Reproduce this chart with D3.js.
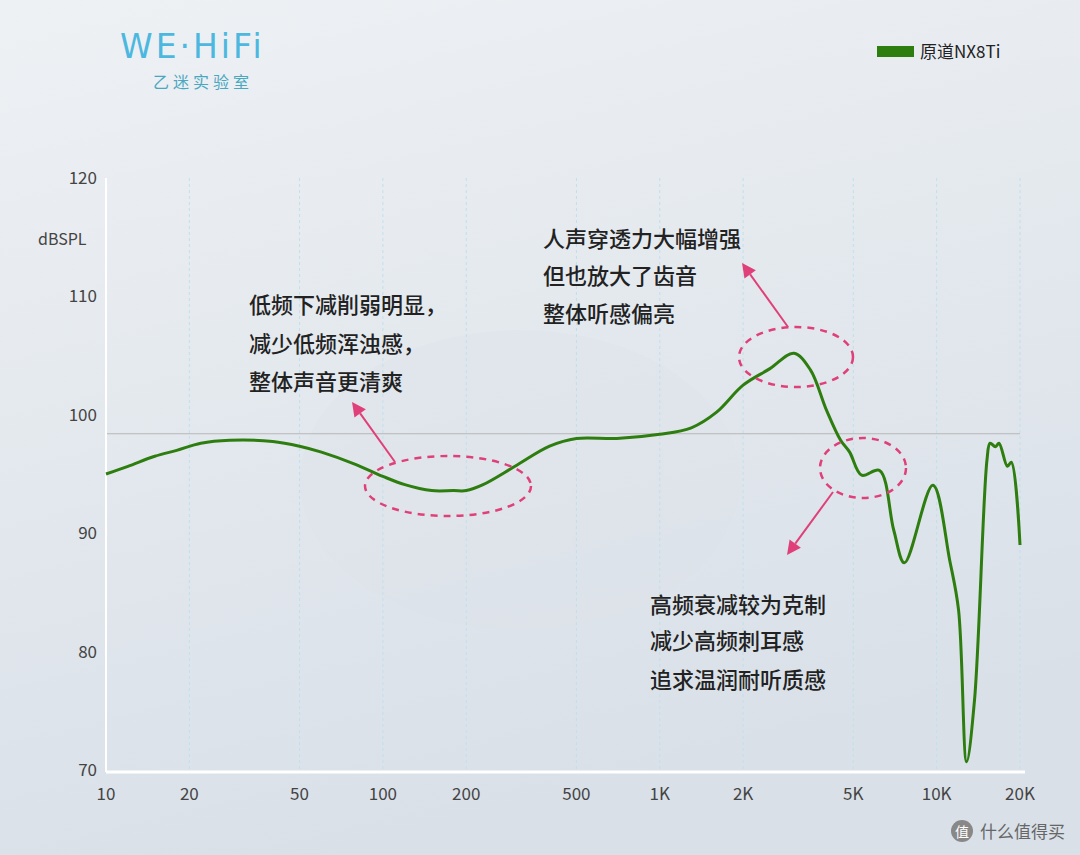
<!DOCTYPE html>
<html><head><meta charset="utf-8">
<script src="https://cdn.jsdelivr.net/npm/d3@7"></script>
<style>body{margin:0}svg{display:block}</style>
</head><body><div id="chart"></div>
<script>
const freqs = [10,12,15,18,22,28,40,50,60,80,100,120,150,180,200,230,300,400,500,700,1000,1300,1600,2000,2500,3050,3500,4000,4500,4850,5360,6220,7000,7650,9690,11150,12000,12830,13700,15200,15600,16300,16800,18000,18600,20000];
const spl = [95.0,95.65,96.5,97.0,97.6,97.85,97.75,97.35,96.85,95.8,94.8,94.1,93.6,93.6,93.6,94.1,95.65,97.35,98.0,98.0,98.35,98.9,100.2,102.5,103.9,105.2,103.8,100.4,97.85,96.85,94.9,95.3,90.25,87.5,94.05,87.7,83.5,70.7,75.9,96.2,97.6,97.3,97.6,95.65,96.0,89.0];
const xTicks = [10,20,50,100,200,500,1000,2000,5000,10000,20000];
const xTickLabels = ["10","20","50","100","200","500","1K","2K","5K","10K","20K"];
const yTicks = [70,80,90,100,110,120];
const refLevel = 98.4;

const W = 1080, H = 855;
const svg = d3.select("#chart").append("svg").attr("width", W).attr("height", H)
  .style("font-family", "'Noto Sans CJK SC','Noto Sans',sans-serif");

const defs = svg.append("defs");
const grad = defs.append("linearGradient").attr("id","bg").attr("x1",0).attr("y1",0).attr("x2",0.3).attr("y2",1);
grad.append("stop").attr("offset","0%").attr("stop-color","#eef1f4");
grad.append("stop").attr("offset","100%").attr("stop-color","#d9e0e8");
svg.append("rect").attr("width",W).attr("height",H).attr("fill","url(#bg)");

svg.append("ellipse").attr("cx",520).attr("cy",480).attr("rx",220).attr("ry",150).attr("fill","#dde2e8").attr("opacity",0.35);

const x = d3.scaleLog().domain([10,20000]).range([106,1020]);
const y = d3.scaleLinear().domain([70,120]).range([770,178]);

// grid
svg.append("g").selectAll("line").data(xTicks).join("line")
  .attr("x1",d=>x(d)).attr("x2",d=>x(d)).attr("y1",y(120)).attr("y2",y(70))
  .attr("stroke","#bfe0ec").attr("stroke-dasharray","3,3");
svg.append("line").attr("x1",106).attr("x2",1020).attr("y1",y(refLevel)).attr("y2",y(refLevel)).attr("stroke","#b8b8b8");
svg.append("line").attr("x1",106).attr("x2",106).attr("y1",y(120)).attr("y2",772).attr("stroke","#fff").attr("stroke-width",2);
svg.append("line").attr("x1",106).attr("x2",1025).attr("y1",772).attr("y2",772).attr("stroke","#fff").attr("stroke-width",3);

svg.append("g").selectAll("text").data(yTicks).join("text")
  .attr("x",97).attr("y",d=>y(d)+6).attr("text-anchor","end").attr("font-size",17).attr("fill","#444").text(d=>d);
svg.append("text").attr("x",38).attr("y",245).attr("font-size",16).attr("fill","#444").text("dBSPL");
svg.append("g").selectAll("text").data(xTicks).join("text")
  .attr("x",d=>x(d)).attr("y",800).attr("text-anchor","middle").attr("font-size",17).attr("fill","#444")
  .text((d,i)=>xTickLabels[i]);

// curve
const line = d3.line().x((d,i)=>x(freqs[i])).y(d=>y(d)).curve(d3.curveCatmullRom.alpha(0.5));
svg.append("path").attr("d",line(spl)).attr("fill","none").attr("stroke","#2e7d0f").attr("stroke-width",3);

// legend
svg.append("rect").attr("x",877).attr("y",46).attr("width",37).attr("height",11).attr("fill","#2e7d0f");
svg.append("text").attr("x",920).attr("y",58).attr("font-size",17).attr("fill","#222").text("原道NX8Ti");

// logo
svg.append("text").attr("x",120).attr("y",58).attr("font-size",33).attr("fill","#4cb8e0")
  .attr("font-family","'DejaVu Sans',sans-serif").attr("letter-spacing",3).text("WE·HiFi");
svg.append("text").attr("x",153).attr("y",88).attr("font-size",16).attr("fill","#4aa7c0").attr("letter-spacing",4).text("乙迷实验室");

// annotations
const pink = "#e0407a";
const ann = svg.append("g");
[[448,486,83,30],[796,357,57,30],[863,468,43,30]].forEach(e=>{
  ann.append("ellipse").attr("cx",e[0]).attr("cy",e[1]).attr("rx",e[2]).attr("ry",e[3])
    .attr("fill","none").attr("stroke",pink).attr("stroke-width",2.5).attr("stroke-dasharray","7,6");
});
[[395,462,352,402],[788,327,742,263],[833,492,787,555]].forEach(a=>{
  const ang = Math.atan2(a[3]-a[1],a[2]-a[0]);
  const hx = a[2]-14*Math.cos(ang), hy = a[3]-14*Math.sin(ang);
  ann.append("line").attr("x1",a[0]).attr("y1",a[1]).attr("x2",hx).attr("y2",hy).attr("stroke",pink).attr("stroke-width",2);
  const p = [[a[2],a[3]],[hx+7*Math.sin(ang),hy-7*Math.cos(ang)],[hx-7*Math.sin(ang),hy+7*Math.cos(ang)]];
  ann.append("polygon").attr("points",p.map(q=>q.join(",")).join(" ")).attr("fill",pink);
});
const blocks = [
  [249,[313,352,390],["低频下减削弱明显，","减少低频浑浊感，","整体声音更清爽"]],
  [543,[247,284,322],["人声穿透力大幅增强","但也放大了齿音","整体听感偏亮"]],
  [650,[613,649,688],["高频衰减较为克制","减少高频刺耳感","追求温润耐听质感"]]
];
blocks.forEach(b=>b[2].forEach((t,i)=>{
  ann.append("text").attr("x",b[0]).attr("y",b[1][i]).attr("font-size",22).attr("font-weight",500).attr("fill","#222").text(t);
}));

svg.append("circle").attr("cx",962).attr("cy",831).attr("r",11).attr("fill","#888");
svg.append("text").attr("x",962).attr("y",837).attr("text-anchor","middle").attr("font-size",14).attr("fill","#fff").text("值");
svg.append("text").attr("x",980).attr("y",838).attr("font-size",17).attr("fill","#666").text("什么值得买");
</script></body></html>
